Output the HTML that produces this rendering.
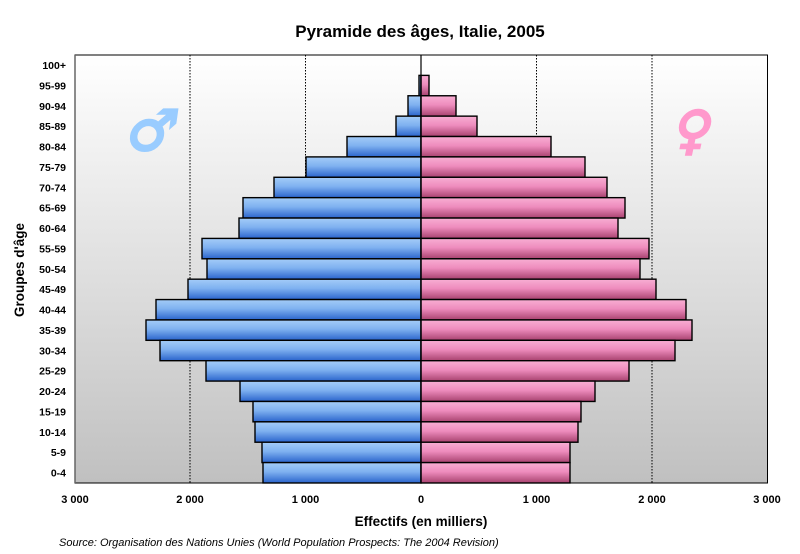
<!DOCTYPE html>
<html><head><meta charset="utf-8"><style>
body{margin:0;background:#fff;}
svg{display:block;font-family:"Liberation Sans",Arial,sans-serif;}
</style></head><body>
<svg id="s" width="800" height="554" xmlns="http://www.w3.org/2000/svg">
<defs>
<linearGradient id="bg" x1="0" y1="0" x2="0" y2="1"><stop offset="0" stop-color="#ffffff"/><stop offset="1" stop-color="#c0c0c0"/></linearGradient>
<linearGradient id="bl" x1="0" y1="0" x2="0" y2="1"><stop offset="0" stop-color="#a4ccf8"/><stop offset="0.45" stop-color="#7fb1f0"/><stop offset="1" stop-color="#2a64cc"/></linearGradient>
<linearGradient id="pk" x1="0" y1="0" x2="0" y2="1"><stop offset="0" stop-color="#f8aed3"/><stop offset="0.45" stop-color="#ee8cbd"/><stop offset="1" stop-color="#a8426f"/></linearGradient>
</defs>
<rect x="75" y="55" width="692.5" height="428" fill="url(#bg)" stroke="#000" stroke-width="1"/>
<line x1="75" y1="55" x2="75" y2="483" stroke="#666" stroke-width="1.5"/>
<g stroke="#000" stroke-width="1" stroke-dasharray="1.5,1.5">
<line x1="190" y1="55" x2="190" y2="483"/><line x1="305.5" y1="55" x2="305.5" y2="483"/>
<line x1="536.5" y1="55" x2="536.5" y2="483"/><line x1="652" y1="55" x2="652" y2="483"/>
</g>
<g id="bars"></g>
<line x1="421" y1="55" x2="421" y2="483" stroke="#000" stroke-width="1.2"/>
<text x="0" y="0" font-size="56" fill="#99ccff" stroke="#99ccff" stroke-width="2.5" text-anchor="middle" font-family="DejaVu Sans,sans-serif" transform="translate(150,150) skewX(-8)">♂</text>
<text x="0" y="0" font-size="52" fill="#ff99cc" stroke="#ff99cc" stroke-width="2.5" text-anchor="middle" font-family="DejaVu Sans,sans-serif" transform="translate(690,148) skewX(-12)">♀</text>
<text x="420" y="37" font-size="17" font-weight="bold" text-anchor="middle">Pyramide des âges, Italie, 2005</text>
<g font-size="11" font-weight="bold" text-anchor="middle">
<text x="75" y="503">3 000</text><text x="190" y="503">2 000</text><text x="305.5" y="503">1 000</text><text x="421" y="503">0</text><text x="536.5" y="503">1 000</text><text x="652" y="503">2 000</text><text x="767" y="503">3 000</text>
</g>
<text x="421" y="526" font-size="13.5" font-weight="bold" text-anchor="middle">Effectifs (en milliers)</text>
<text x="24" y="270" font-size="13.5" font-weight="bold" text-anchor="middle" transform="rotate(-90 24 270)">Groupes d'âge</text>
<text x="59" y="546" font-size="11" font-style="italic">Source: Organisation des Nations Unies (World Population Prospects: The 2004 Revision)</text>
<g id="lab" font-size="10.5" font-weight="bold" text-anchor="end"></g>
</svg>
<script>
var labels=["100+","95-99","90-94","85-89","80-84","75-79","70-74","65-69","60-64","55-59","50-54","45-49","40-44","35-39","30-34","25-29","20-24","15-19","10-14","5-9","0-4"];
var m=[0,2,13,25,74,115,147,178,182,219,214,233,265,275,261,215,181,168,166,159,158];
var f=[0,8,35,56,130,164,186,204,197,228,219,235,265,271,254,208,174,160,157,149,149];
var ns="http://www.w3.org/2000/svg",g=document.getElementById("bars"),lg=document.getElementById("lab");
for(var i=0;i<21;i++){
 var y=55+i*20.38,h=20.38;
 if(m[i]>0){var r=document.createElementNS(ns,"rect");r.setAttribute("x",421-m[i]);r.setAttribute("y",y);r.setAttribute("width",m[i]);r.setAttribute("height",h);r.setAttribute("fill","url(#bl)");r.setAttribute("stroke","#000");r.setAttribute("stroke-width","1.4");g.appendChild(r);}
 if(f[i]>0){var r2=document.createElementNS(ns,"rect");r2.setAttribute("x",421);r2.setAttribute("y",y);r2.setAttribute("width",f[i]);r2.setAttribute("height",h);r2.setAttribute("fill","url(#pk)");r2.setAttribute("stroke","#000");r2.setAttribute("stroke-width","1.4");g.appendChild(r2);}
 var t=document.createElementNS(ns,"text");t.setAttribute("x",66);t.setAttribute("y",y+14);t.textContent=labels[i];lg.appendChild(t);
}
</script>
</body></html>
